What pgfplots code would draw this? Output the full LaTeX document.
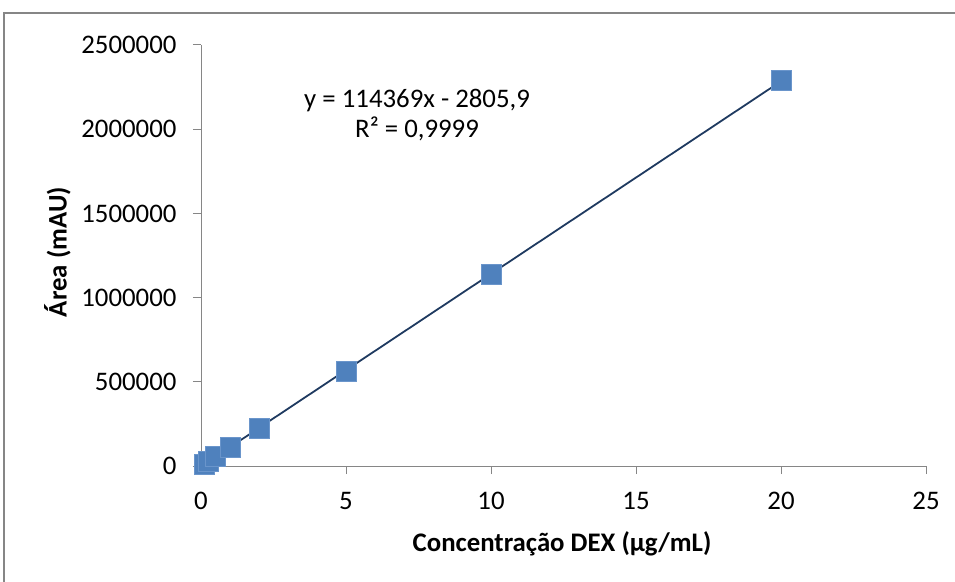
\documentclass[border=0pt]{standalone}
\usepackage{pgfplots}
\pgfplotsset{compat=1.18}
\usepackage{fontspec}
\setmainfont{Carlito}
\definecolor{serie}{HTML}{4F81BD}
\definecolor{serieedge}{HTML}{6A95CB}
\definecolor{trend}{HTML}{1F3A60}
\definecolor{eixo}{HTML}{868686}

\begin{document}
\begin{tikzpicture}[x=1pt,y=1pt]
\useasboundingbox (0,0) rectangle (955,581);
% chart frame
\draw[eixo, line width=2pt] (4,-20) -- (4,568) -- (975,568);
\begin{axis}[
  scale only axis, width=725pt, height=421pt,
  at={(201pt,115pt)}, anchor=south west,
  xmin=0, xmax=25, ymin=0, ymax=2500000,
  axis x line*=bottom, axis y line*=left,
  xtick={0,5,...,25}, ytick={0,500000,...,2500000},
  scaled y ticks=false,
  /pgf/number format/.cd, fixed, 1000 sep={}, assume math mode=true, /pgfplots/.cd,
  tick align=outside, major tick length=8pt,
  tick style={eixo, line width=1pt},
  axis line style={eixo, line width=1pt},
  ticklabel style={font=\fontsize{26.8}{32}\selectfont, text=black},
  xticklabel style={yshift=-15pt},
  yticklabel style={xshift=-13pt},
  xlabel={Concentração DEX (µg/mL)},
  ylabel={Área (mAU)},
  label style={font=\bfseries\fontsize{26.8}{32}\selectfont},
  xlabel style={at={(axis description cs:0.498,-0.186)}, anchor=center},
  ylabel style={at={(axis description cs:-0.198,0.508)}, anchor=center, rotate=0},
  clip=false,
]
% calibration points
\addplot[only marks, mark=square*, mark size=10pt,
  mark options={fill=serie, draw=serieedge, line width=0.8pt}]
  coordinates {
    (0.1, 9000) (0.25, 27000) (0.5, 57000) (1, 111000)
    (2, 225000) (5, 560000) (10, 1140000) (20, 2290000)
  };
% linear trendline y = 114369x - 2805.9
\addplot[trend, line width=1.8pt] coordinates {
    (0.1, 8631) (20, 2284574)
  };
\node[align=center, font=\fontsize{26.8}{30}\selectfont] at (axis cs:7.45,2084000)
  {y = 114369x - 2805,9\\R² = 0,9999};
\end{axis}
\end{tikzpicture}
\end{document}
